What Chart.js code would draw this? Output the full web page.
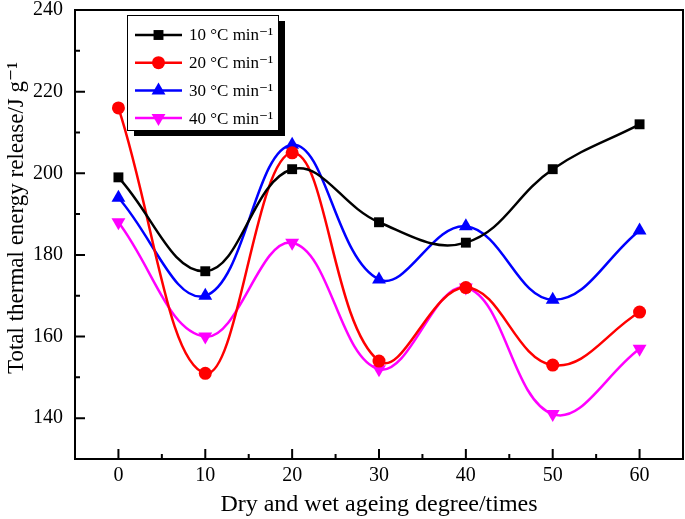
<!DOCTYPE html>
<html>
<head>
<meta charset="utf-8">
<script src="https://cdn.jsdelivr.net/npm/chart.js@4"></script>
<style>
  html, body { margin: 0; padding: 0; background: #fff; }
  #wrap { width: 685px; height: 519px; }
</style>
</head>
<body>
<div id="wrap"><canvas id="energyChart" width="685" height="519"></canvas></div>
<script>
const ageing = [0, 10, 20, 30, 40, 50, 60];
const rate10 = [199, 176, 201, 188, 183, 201, 212];
const rate20 = [216, 151, 205, 154, 172, 153, 166];
const rate30 = [194, 170, 207, 174, 187, 169, 186];
const rate40 = [188, 160, 183, 152, 172, 141, 157];
const seriesLabels = ['10 °C min⁻¹', '20 °C min⁻¹', '30 °C min⁻¹', '40 °C min⁻¹'];
const xTitle = 'Dry and wet ageing degree/times';
const yTitle = 'Total thermal energy release/J g⁻¹';
const xTicks = [0, 10, 20, 30, 40, 50, 60];
const xMinorTicks = [-5, 5, 15, 25, 35, 45, 55, 65];
const yTicks = [140, 160, 180, 200, 220, 240];
const yMinorTicks = [130, 150, 170, 190, 210, 230];

const serif = '"Liberation Serif", "DejaVu Serif", serif';

function makeSeries(label, values, color, shape, size) {
  return {
    label: label,
    data: ageing.map((x, i) => ({ x: x, y: values[i] })),
    borderColor: color,
    backgroundColor: color,
    borderWidth: 2.5,
    pointStyle: shape,
    pointRadius: size,
    pointBorderWidth: 0,
    pointRotation: 0,
    tension: 0.4,
    clip: false
  };
}

const datasets = [
  makeSeries(seriesLabels[0], rate10, '#000000', 'rect', 7),
  makeSeries(seriesLabels[1], rate20, '#ff0000', 'circle', 6.5),
  makeSeries(seriesLabels[2], rate30, '#0000ff', 'triangle', 8),
  makeSeries(seriesLabels[3], rate40, '#ff00ff', 'triangle', 8)
];
datasets[3].pointRotation = 180;

// frame + inward ticks, like the Origin plot
const framePlugin = {
  id: 'frame',
  afterDraw(chart) {
    const ctx = chart.ctx;
    const a = chart.chartArea;
    const xs = chart.scales.x;
    const ys = chart.scales.y;
    ctx.save();
    ctx.strokeStyle = '#000';
    ctx.lineWidth = 2;
    ctx.strokeRect(a.left, a.top, a.right - a.left, a.bottom - a.top);
    ctx.beginPath();
    xTicks.forEach(v => {
      const px = xs.getPixelForValue(v);
      ctx.moveTo(px, a.bottom); ctx.lineTo(px, a.bottom - 10);
    });
    xMinorTicks.forEach(v => {
      const px = xs.getPixelForValue(v);
      ctx.moveTo(px, a.bottom); ctx.lineTo(px, a.bottom - 5);
    });
    yTicks.forEach(v => {
      const py = ys.getPixelForValue(v);
      ctx.moveTo(a.left, py); ctx.lineTo(a.left + 10, py);
    });
    yMinorTicks.forEach(v => {
      const py = ys.getPixelForValue(v);
      ctx.moveTo(a.left, py); ctx.lineTo(a.left + 5, py);
    });
    ctx.stroke();

    // y title, sits a bit above the middle of the axis
    ctx.translate(17, 218);
    ctx.rotate(-Math.PI / 2);
    ctx.fillStyle = '#000';
    ctx.font = '23px ' + serif;
    ctx.textAlign = 'center';
    ctx.textBaseline = 'middle';
    ctx.fillText(yTitle, 0, 0);
    ctx.restore();
  }
};

// boxed legend with drop shadow
const legendBoxPlugin = {
  id: 'legendBox',
  afterDraw(chart) {
    const ctx = chart.ctx;
    const left = 127, top = 15, w = 151, h = 115;
    ctx.save();
    ctx.fillStyle = '#000';
    ctx.fillRect(left + 7, top + 6, w, h);
    ctx.fillStyle = '#fff';
    ctx.fillRect(left, top, w, h);
    ctx.strokeStyle = '#000';
    ctx.lineWidth = 1;
    ctx.strokeRect(left + 0.5, top + 0.5, w, h);
    ctx.font = '17px ' + serif;
    ctx.textBaseline = 'middle';
    chart.data.datasets.forEach((ds, i) => {
      const y = 35 + i * 27.7;
      ctx.strokeStyle = ds.borderColor;
      ctx.lineWidth = 2.5;
      ctx.beginPath();
      ctx.moveTo(135, y); ctx.lineTo(182, y);
      ctx.stroke();
      ctx.fillStyle = ds.backgroundColor;
      Chart.helpers.drawPoint(ctx, {
        pointStyle: ds.pointStyle,
        rotation: ds.pointRotation,
        radius: ds.pointRadius,
        borderWidth: 0
      }, 158.5, y);
      ctx.fillStyle = '#000';
      ctx.fillText(ds.label, 189, y + 1);
    });
    ctx.restore();
  }
};

new Chart(document.getElementById('energyChart'), {
  type: 'line',
  data: { datasets: datasets },
  options: {
    responsive: false,
    animation: false,
    layout: { autoPadding: false, padding: { top: 10, right: 2, left: 0, bottom: 0 } },
    plugins: { legend: { display: false }, tooltip: { enabled: false } },
    scales: {
      x: {
        type: 'linear',
        min: -5,
        max: 65,
        afterBuildTicks: s => { s.ticks = xTicks.map(v => ({ value: v })); },
        afterFit: s => { s.height = 60; s.paddingLeft = 0; s.paddingRight = 0; },
        grid: { display: false, drawTicks: false },
        border: { display: false },
        ticks: { color: '#000', padding: 5, font: { family: serif, size: 20 } },
        title: {
          display: true,
          text: xTitle,
          color: '#000',
          padding: { top: 0, bottom: 0 },
          font: { family: serif, size: 24 }
        }
      },
      y: {
        min: 130,
        max: 240,
        afterBuildTicks: s => { s.ticks = yTicks.map(v => ({ value: v })); },
        afterFit: s => { s.width = 75; s.paddingTop = 0; s.paddingBottom = 0; },
        grid: { display: false, drawTicks: false },
        border: { display: false },
        ticks: { color: '#000', padding: 12, font: { family: serif, size: 20 } },
        title: { display: false }
      }
    }
  },
  plugins: [framePlugin, legendBoxPlugin]
});
</script>
</body>
</html>
